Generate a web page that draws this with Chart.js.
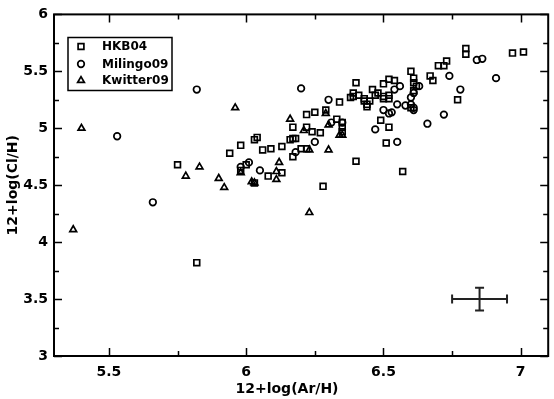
<!DOCTYPE html>
<html>
<head>
<meta charset="utf-8">
<script src="https://cdn.jsdelivr.net/npm/chart.js@4/dist/chart.umd.min.js"></script>
<style>
html,body{margin:0;padding:0;background:#fff;}
#wrap{width:554px;height:399px;}
</style>
</head>
<body>
<div id="wrap"><canvas id="c" width="554" height="399"></canvas></div>
<script>
// ---- data ----
const hkbX = [5.75,5.82,5.94,5.98,5.98,6.00,6.03,6.04,6.03,6.06,6.09,6.08,6.13,6.13,6.16,6.17,6.18,6.17,6.20,6.22,6.17,6.22,6.22,6.24,6.25,6.27,6.28,6.29,6.33,6.34,6.35,6.35,6.35,6.38,6.39,6.39,6.40,6.40,6.41,6.43,6.43,6.44,6.44,6.45,6.46,6.47,6.48,6.49,6.50,6.50,6.50,6.52,6.52,6.52,6.54,6.51,6.52,6.57,6.60,6.60,6.61,6.61,6.62,6.61,6.67,6.68,6.70,6.72,6.73,6.77,6.80,6.80,6.97,7.01];
const hkbY = [4.68,3.82,4.78,4.85,4.63,4.68,4.90,4.92,4.52,4.81,4.82,4.58,4.84,4.61,4.90,4.91,4.91,4.75,4.82,4.82,5.01,5.01,5.12,4.97,5.14,4.96,4.49,5.16,5.08,5.23,5.05,5.01,4.97,5.27,5.31,5.28,5.40,4.71,5.29,5.26,5.24,5.21,5.19,5.24,5.34,5.29,5.31,5.07,5.39,5.28,5.26,5.29,5.26,5.43,5.42,4.87,5.01,4.62,5.50,5.18,5.44,5.40,5.37,5.33,5.46,5.42,5.55,5.55,5.59,5.25,5.70,5.65,5.66,5.67];

const milX = [5.53,5.66,5.82,5.98,6.01,6.05,6.18,6.20,6.25,6.30,6.31,6.35,6.47,6.50,6.52,6.53,6.54,6.56,6.55,6.55,6.58,6.60,6.61,6.61,6.60,6.61,6.63,6.66,6.72,6.74,6.78,6.84,6.86,6.91];
const milY = [4.93,4.35,5.34,4.66,4.70,4.63,4.79,5.35,4.88,5.25,5.05,5.05,4.99,5.16,5.13,5.14,5.34,5.37,5.21,4.88,5.20,5.21,5.18,5.16,5.27,5.31,5.37,5.04,5.12,5.46,5.34,5.60,5.61,5.44];

const kwiX = [5.37,5.40,5.78,5.83,5.90,5.92,5.96,5.98,6.02,6.03,6.11,6.11,6.12,6.16,6.21,6.23,6.23,6.29,6.30,6.30,6.34,6.35];
const kwiY = [4.11,5.00,4.58,4.66,4.56,4.48,5.18,4.61,4.53,4.52,4.62,4.55,4.70,5.08,4.98,4.81,4.26,5.13,4.81,5.03,4.94,4.94];

const seriesNames = ["HKB04","Milingo09","Kwitter09"];

// representative error bar
const errCenter = [6.85, 3.5];
const errX = [0.1];
const errY = [0.1];

// axes
const xMajor = [5.5,6,6.5,7];
const xMinor = [5.75,6.25,6.75];
const yMajor = [3,3.5,4,4.5,5,5.5,6];
const yMinor = [3.25,3.75,4.25,4.75,5.25,5.75];
const xTitle = "12+log(Ar/H)";
const yTitle = "12+log(Cl/H)";

function pts(xs, ys){ return xs.map((x,i)=>({x:x, y:ys[i]})); }

const FONT = "'DejaVu Sans', sans-serif";

const decor = {
  id:'decor',
  afterDraw(chart){
    const ctx = chart.ctx, a = chart.chartArea;
    const xs = chart.scales.x, ys = chart.scales.y;
    ctx.save();
    ctx.strokeStyle = '#000';
    ctx.lineWidth = 2;
    ctx.strokeRect(a.left, a.top, a.right - a.left, a.bottom - a.top);
    ctx.lineWidth = 1.5;
    ctx.beginPath();
    const tick = (vals, len) => {
      vals.forEach(v => {
        const px = Math.round(xs.getPixelForValue(v)) + 0.5;
        ctx.moveTo(px, a.bottom); ctx.lineTo(px, a.bottom - len);
        ctx.moveTo(px, a.top); ctx.lineTo(px, a.top + len);
      });
    };
    const tickY = (vals, len) => {
      vals.forEach(v => {
        const py = Math.round(ys.getPixelForValue(v)) + 0.5;
        ctx.moveTo(a.left, py); ctx.lineTo(a.left + len, py);
        ctx.moveTo(a.right, py); ctx.lineTo(a.right - len, py);
      });
    };
    tick(xMajor, 8); tick(xMinor, 5);
    tickY(yMajor, 8); tickY(yMinor, 5);
    ctx.stroke();

    // error bar
    const cx = xs.getPixelForValue(errCenter[0]), cy = ys.getPixelForValue(errCenter[1]);
    const x0 = xs.getPixelForValue(errCenter[0]-errX[0]), x1 = xs.getPixelForValue(errCenter[0]+errX[0]);
    const y0 = ys.getPixelForValue(errCenter[1]-errY[0]), y1 = ys.getPixelForValue(errCenter[1]+errY[0]);
    ctx.lineWidth = 2;
    ctx.strokeStyle = '#222';
    ctx.beginPath();
    ctx.moveTo(x0, cy); ctx.lineTo(x1, cy);
    ctx.moveTo(cx, y0); ctx.lineTo(cx, y1);
    ctx.moveTo(x0, cy-4.5); ctx.lineTo(x0, cy+4.5);
    ctx.moveTo(x1, cy-4.5); ctx.lineTo(x1, cy+4.5);
    ctx.moveTo(cx-4.5, y0); ctx.lineTo(cx+4.5, y0);
    ctx.moveTo(cx-4.5, y1); ctx.lineTo(cx+4.5, y1);
    ctx.stroke();

    // axis titles
    ctx.fillStyle = '#000';
    ctx.font = "bold 14px " + FONT;
    ctx.textAlign = 'center';
    ctx.textBaseline = 'alphabetic';
    ctx.fillText(xTitle, 287, 393);
    ctx.save();
    ctx.translate(17, (a.top + a.bottom)/2);
    ctx.rotate(-Math.PI/2);
    ctx.fillText(yTitle, 0, 0);
    ctx.restore();

    // legend
    ctx.lineWidth = 1.5;
    ctx.strokeStyle = '#000';
    ctx.strokeRect(68, 37.5, 104, 53);
    ctx.font = "bold 12px " + FONT;
    ctx.textAlign = 'left';
    ctx.textBaseline = 'middle';
    const rows = [46.5, 64, 80.5];
    ctx.lineWidth = 1.7;
    chart.data.datasets.forEach((ds, i) => {
      const mx = 81, my = rows[i];
      ctx.beginPath();
      if (ds.pointStyle === 'rect') {
        const s = Math.SQRT1_2 * ds.pointRadius;
        ctx.rect(mx - s, my - s, 2*s, 2*s);
      } else if (ds.pointStyle === 'circle') {
        ctx.arc(mx, my, ds.pointRadius, 0, Math.PI*2);
      } else {
        const r = ds.pointRadius;
        ctx.moveTo(mx, my - r);
        ctx.lineTo(mx + r*Math.sin(2*Math.PI/3), my - r*Math.cos(2*Math.PI/3));
        ctx.lineTo(mx + r*Math.sin(4*Math.PI/3), my - r*Math.cos(4*Math.PI/3));
        ctx.closePath();
      }
      ctx.stroke();
      ctx.fillText(ds.label, 102, my + 0.5);
    });
    ctx.restore();
  }
};

const common = { showLine:false, borderColor:'#000', backgroundColor:'rgba(0,0,0,0)', borderWidth:1.7, pointBorderWidth:1.7, pointHoverRadius:4 };

new Chart(document.getElementById('c'), {
  type:'scatter',
  data:{ datasets:[
    Object.assign({label:seriesNames[0], data:pts(hkbX,hkbY), pointStyle:'rect', pointRadius:4.1}, common),
    Object.assign({label:seriesNames[1], data:pts(milX,milY), pointStyle:'circle', pointRadius:3.3}, common),
    Object.assign({label:seriesNames[2], data:pts(kwiX,kwiY), pointStyle:'triangle', pointRadius:3.9}, common)
  ]},
  options:{
    responsive:false, animation:false, devicePixelRatio:1,
    layout:{ padding:{ top:7, right:3, left:0, bottom:0 } },
    plugins:{ legend:{display:false}, tooltip:{enabled:false} },
    scales:{
      x:{ type:'linear', min:5.3, max:7.1,
        grid:{ display:false, drawTicks:false }, border:{ display:false },
        afterBuildTicks(s){ s.ticks = xMajor.map(v=>({value:v})); },
        afterFit(s){ s.height = 43; },
        ticks:{ color:'#000', padding:8, font:{ family:FONT, size:14, weight:'bold' }, callback:v=>String(v) } },
      y:{ type:'linear', min:3, max:6,
        grid:{ display:false, drawTicks:false }, border:{ display:false },
        afterBuildTicks(s){ s.ticks = yMajor.map(v=>({value:v})); },
        afterFit(s){ s.width = 54; },
        ticks:{ color:'#000', padding:6, font:{ family:FONT, size:14, weight:'bold' }, callback:v=>String(v) } }
    }
  },
  plugins:[decor]
});
</script>
</body>
</html>
